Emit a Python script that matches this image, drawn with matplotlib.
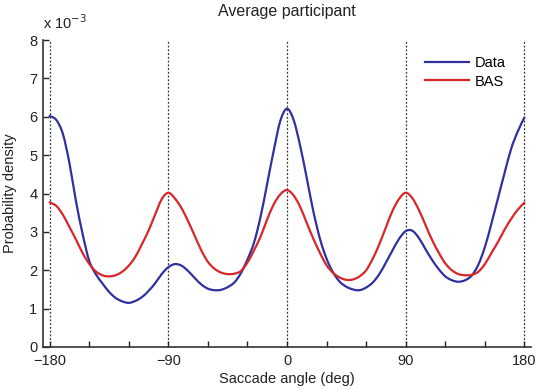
import numpy as np
import matplotlib
matplotlib.use('Agg')
import matplotlib.pyplot as plt
from matplotlib.path import Path
from matplotlib.patches import PathPatch

plt.rcParams['font.family'] = ['Liberation Sans', 'DejaVu Sans']

# saccade angle (deg), 5 deg steps
angle = np.arange(-180, 181, 5)

# probability density, in units of 1e-3
data = [6.02, 5.92, 5.56, 4.80, 3.80, 2.95, 2.25, 1.90, 1.66, 1.44, 1.28, 1.19, 1.15,
        1.20, 1.30, 1.46, 1.66, 1.90, 2.08, 2.16, 2.12, 1.98, 1.80, 1.63, 1.52, 1.48,
        1.49, 1.56, 1.68, 1.92, 2.28, 2.72, 3.40, 4.26, 5.13, 5.90, 6.21, 5.92, 5.24,
        4.40, 3.53, 2.82, 2.30, 1.94, 1.70, 1.57, 1.50, 1.48, 1.55, 1.68, 1.90, 2.20,
        2.52, 2.82, 3.02, 3.03, 2.84, 2.55, 2.27, 2.03, 1.84, 1.74, 1.70, 1.74, 1.86,
        2.14, 2.60, 3.22, 3.88, 4.54, 5.17, 5.62, 5.98]
bas = [3.77, 3.68, 3.45, 3.13, 2.80, 2.45, 2.17, 1.97, 1.87, 1.84, 1.87, 1.96, 2.12,
       2.35, 2.68, 3.03, 3.45, 3.85, 4.02, 3.87, 3.62, 3.28, 2.90, 2.52, 2.22, 2.04,
       1.94, 1.90, 1.91, 1.98, 2.20, 2.52, 2.88, 3.33, 3.72, 3.98, 4.09, 3.95, 3.65,
       3.23, 2.82, 2.45, 2.13, 1.93, 1.81, 1.75, 1.76, 1.84, 2.00, 2.30, 2.68, 3.12,
       3.55, 3.86, 4.02, 3.88, 3.57, 3.18, 2.79, 2.46, 2.18, 2.00, 1.90, 1.87, 1.88,
       1.96, 2.16, 2.45, 2.74, 3.06, 3.34, 3.58, 3.76]

grid_angles = [-180, -90, 0, 90, 180]
xticks = np.arange(-180, 181, 30)


def smooth_path(x, y):
    # catmull-rom through the points, drawn as cubic bezier segments
    p = np.column_stack([x, y]).astype(float)
    p = np.vstack([p[0], p, p[-1]])
    verts = [p[1]]
    codes = [Path.MOVETO]
    for i in range(1, len(p) - 2):
        c1 = p[i] + (p[i + 1] - p[i - 1]) / 6
        c2 = p[i + 1] - (p[i + 2] - p[i]) / 6
        verts += [c1, c2, p[i + 1]]
        codes += [Path.CURVE4] * 3
    return Path(verts, codes)


fig = plt.figure(figsize=(5.38, 3.89), dpi=100)
ax = fig.add_axes([43/538, 1-347/389, 488/538, 307/389])

for g in grid_angles:
    ax.axvline(g, color='#333333', ls=(0, (1.5, 1.5)), lw=0.9, zorder=1)

for vals, col, lab in [(data, '#30309e', 'Data'), (bas, '#d8262a', 'BAS')]:
    ax.add_patch(PathPatch(smooth_path(angle, vals), fill=False, edgecolor=col,
                           lw=1.6, zorder=3, capstyle='round'))
    ax.plot([], [], color=col, lw=1.6, label=lab)

ax.set_xlim(-185, 185)
ax.set_ylim(0, 8)
ax.set_xticks(xticks)
ax.set_xticklabels([str(t).replace('-', '\u2212') if t % 90 == 0 else '' for t in xticks])
ax.set_yticks(range(9))
ax.tick_params(direction='in', length=4, width=1, labelsize=10.5, colors='#222222')
ax.tick_params(axis='x', pad=5)
ax.tick_params(axis='y', pad=4)
for s in ['top', 'right']:
    ax.spines[s].set_visible(False)
for s in ['left', 'bottom']:
    ax.spines[s].set_color('#333333')
    ax.spines[s].set_linewidth(1.2)

ax.text(0.0, 1.025, r'x 10$^{-3}$', transform=ax.transAxes, fontsize=10.5,
        va='bottom', ha='left', color='#222222')
ax.set_title('Average participant', fontsize=11.5, pad=17, color='#222222')
ax.set_xlabel('Saccade angle (deg)', fontsize=10.5, labelpad=3, color='#222222')
ax.set_ylabel('Probability density', fontsize=10.5, labelpad=9, color='#222222')

leg = ax.legend(loc='upper right', bbox_to_anchor=(0.975, 0.99), frameon=False,
                fontsize=10.5, handlelength=3.0, handletextpad=0.4, labelspacing=0.3)

fig.savefig('out.png', dpi=100)
